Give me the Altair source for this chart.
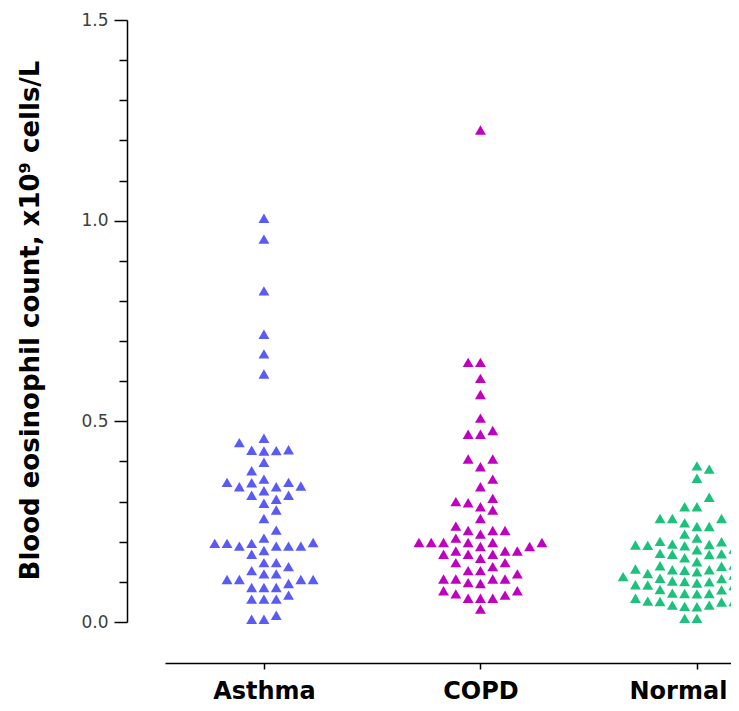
import altair as alt
import pandas as pd

groups = ["Asthma", "COPD", "Normal"]
colors = ["#5a5af5", "#c000c0", "#1cc27c"]

asthma = [1.006, 0.954, 0.825, 0.717, 0.668, 0.618,
          0.458, 0.447, 0.428, 0.426, 0.427, 0.429,
          0.398, 0.377, 0.356,
          0.347, 0.337, 0.337, 0.339, 0.348, 0.348,
          0.316, 0.306, 0.316, 0.327, 0.296,
          0.279, 0.258, 0.229,
          0.196, 0.189, 0.189, 0.169, 0.178, 0.198, 0.189, 0.189, 0.196, 0.196, 0.209,
          0.148, 0.138, 0.148, 0.128,
          0.120, 0.106, 0.106, 0.096, 0.106, 0.106, 0.120,
          0.086, 0.086, 0.086,
          0.067, 0.057, 0.057, 0.057,
          0.017, 0.007, 0.007]

copd = [1.226, 0.647, 0.647, 0.607, 0.567, 0.508, 0.468, 0.468, 0.477,
        0.406, 0.406, 0.387, 0.356, 0.337,
        0.308, 0.297, 0.279, 0.287, 0.300, 0.258,
        0.239, 0.228, 0.228, 0.228,
        0.209, 0.198, 0.198, 0.198, 0.188, 0.188, 0.198, 0.198, 0.198, 0.219,
        0.177, 0.169, 0.169, 0.148, 0.148, 0.159, 0.169, 0.177, 0.177,
        0.128, 0.120, 0.096, 0.107, 0.107, 0.107, 0.107, 0.128, 0.138, 0.098,
        0.078, 0.059, 0.067, 0.059, 0.070, 0.059, 0.078,
        0.032]

normal = [0.389, 0.381, 0.358, 0.311, 0.287, 0.287,
          0.258, 0.247, 0.258, 0.258, 0.238, 0.238, 0.219, 0.209,
          0.192, 0.194, 0.190, 0.182, 0.170, 0.168, 0.171, 0.169,
          0.180, 0.182, 0.193, 0.191, 0.200, 0.201,
          0.140, 0.141, 0.130, 0.131, 0.129, 0.130, 0.132, 0.139, 0.142, 0.150, 0.160,
          0.125, 0.117, 0.113, 0.121, 0.115, 0.119,
          0.100, 0.101, 0.092, 0.093, 0.091, 0.092, 0.094, 0.097, 0.102, 0.109, 0.108,
          0.071, 0.072, 0.059, 0.051, 0.050, 0.052, 0.051, 0.059, 0.071, 0.070, 0.080, 0.081,
          0.042, 0.038, 0.039, 0.042,
          0.009, 0.009]

series = [asthma, copd, normal]

PLOT_W = 566
PLOT_H = 602
Y_MAX = 1.5
PX_Y = PLOT_H / Y_MAX
PX_X = 216.5
X_MIN = 0.543
X_MAX = X_MIN + PLOT_W / PX_X


def swarm(vals, w=12.3, h=10.0):
    """Deterministic beeswarm: offsets in px computed from the values."""
    order = sorted(range(len(vals)), key=lambda i: vals[i])
    placed = []
    offs = [0.0] * len(vals)
    for k, i in enumerate(order):
        y = vals[i] * PX_Y
        near = [(px, py) for px, py in placed if abs(py - y) < h]
        cands = [0.0] + [px + s * w for px, _ in near for s in (-1, 1)]
        valid = [c for c in cands
                 if all(abs(c - px) >= w - 1e-6 for px, _ in near)]
        sgn = 1 if k % 2 else -1
        best = min(valid, key=lambda c: (round(abs(c), 3), sgn * c))
        offs[i] = best
        placed.append((best, y))
    return offs


rows = []
for gi, (g, vals) in enumerate(zip(groups, series)):
    offs = swarm(vals)
    for v, o in zip(vals, offs):
        rows.append({"group": g, "value": v, "xpos": gi + 1 + o / PX_X})
df = pd.DataFrame(rows)

label_expr = " : ".join(
    f"datum.value == {i + 1} ? '{g}'" for i, g in enumerate(groups)) + " : ''"

major_test = "abs(datum.value * 2 - round(datum.value * 2)) < 0.01"

chart = alt.Chart(df).mark_point(
    shape="triangle-up", filled=True, size=118, opacity=1, strokeWidth=0
).encode(
    x=alt.X("xpos:Q",
            scale=alt.Scale(domain=[X_MIN, X_MAX], nice=False, zero=False),
            axis=alt.Axis(values=[1, 2, 3], labelExpr=label_expr, title=None,
                          offset=41, tickSize=6, tickWidth=1.5, tickColor="black",
                          domainColor="black", domainWidth=1.5,
                          labelFont="DejaVu Sans", labelFontWeight="bold",
                          labelFontSize=24, labelColor="black", labelPadding=10,
                          labelOffset={"condition": {"test": f"datum.value == {len(groups)}",
                                                     "value": -19}, "value": 0},
                          labelBound=False, labelOverlap=False,
                          grid=False)),
    y=alt.Y("value:Q",
            scale=alt.Scale(domain=[0, Y_MAX], nice=False),
            axis=alt.Axis(values=[round(i * 0.1, 1) for i in range(16)],
                          labelExpr=f"{major_test} ? format(datum.value, '.1f') : ''",
                          tickSize={"condition": {"test": major_test, "value": 13}, "value": 8},
                          tickWidth=1.5, tickColor="black",
                          domainColor="black", domainWidth=1.5,
                          offset=38, labelFont="DejaVu Sans", labelFontSize=17,
                          labelColor="#404040", labelPadding=6,
                          title="Blood eosinophil count, x10⁹ cells/L",
                          titleFont="DejaVu Sans", titleFontWeight="bold",
                          titleFontSize=26, titleColor="black",
                          titleAngle=270, titleAlign="center", titleBaseline="middle",
                          titleX=-97, titleY=300,
                          grid=False)),
    color=alt.Color("group:N", scale=alt.Scale(domain=groups, range=colors), legend=None),
).properties(
    width=PLOT_W, height=PLOT_H,
    autosize=alt.AutoSizeParams(type="none"),
    padding={"left": 157, "top": 12, "right": 0, "bottom": 81},
).configure_view(stroke=None)

chart.save("out.html", embed_options={"renderer": "svg", "actions": False})
